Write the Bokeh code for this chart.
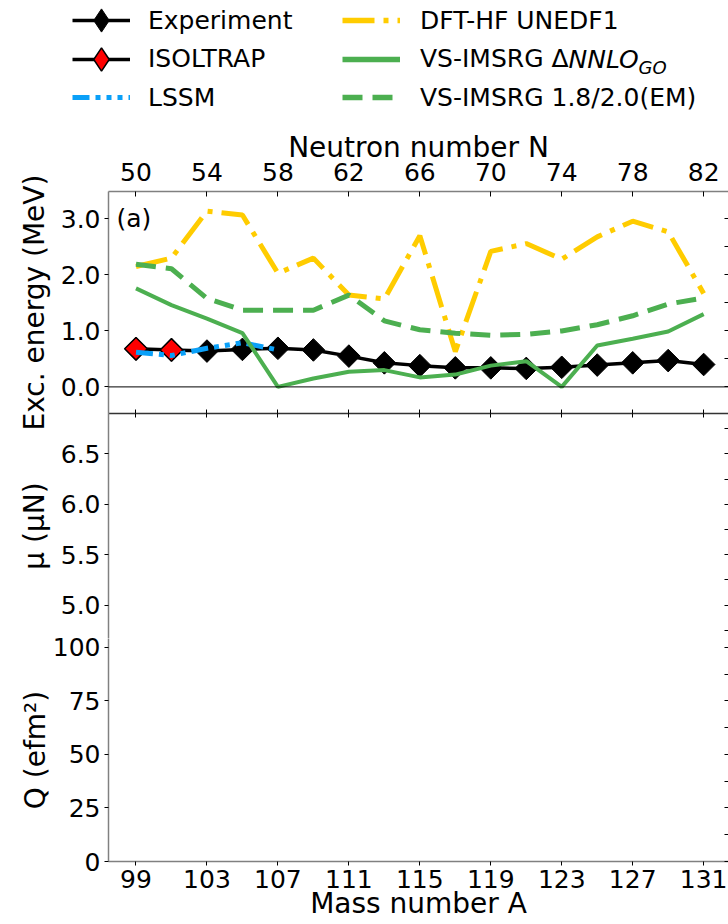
from bokeh.plotting import figure
from bokeh.models import (Range1d, LinearAxis, FixedTicker, PrintfTickFormatter,
                          Span, Label, Legend, LegendItem)
from bokeh.layouts import column
from bokeh.embed import file_html
from bokeh.resources import INLINE
import numpy as np

# ---------------- data ----------------
Z = 49  # proton number (N = A - Z)
mass_A = [99, 101, 103, 105, 107, 109, 111, 113, 115, 117, 119, 121, 123, 125, 127, 129, 131]
exp_E = [0.68, 0.66, 0.64, 0.67, 0.69, 0.66, 0.55, 0.43, 0.38, 0.34, 0.34, 0.33, 0.35, 0.39, 0.43, 0.47, 0.40]
isoltrap_A = [99, 101]
isoltrap_E = [0.68, 0.66]
lssm_A = [99, 101, 103, 105, 107]
lssm_E = [0.62, 0.56, 0.69, 0.79, 0.66]
dft_E = [2.15, 2.30, 3.14, 3.07, 2.03, 2.30, 1.64, 1.57, 2.70, 0.63, 2.42, 2.56, 2.28, 2.68, 2.96, 2.77, 1.67]
go_E = [1.76, 1.46, 1.22, 0.96, 0.00, 0.15, 0.27, 0.30, 0.17, 0.22, 0.38, 0.46, 0.00, 0.74, 0.86, 0.99, 1.30]
em_E = [2.19, 2.11, 1.58, 1.37, 1.37, 1.37, 1.64, 1.18, 1.02, 0.96, 0.92, 0.94, 1.00, 1.11, 1.27, 1.48, 1.59]

mass_ticks = [99, 103, 107, 111, 115, 119, 123, 127, 131]
neutron_ticks = [50, 54, 58, 62, 66, 70, 74, 78, 82]
exc_ticks = [0.0, 1.0, 2.0, 3.0]
exc_right_ticks = [0.0, 0.5, 1.0, 1.5, 2.0, 2.5, 3.0]
mu_ticks = [5.0, 5.5, 6.0, 6.5]
mu_right_ticks = [4.75, 5.0, 5.25, 5.5, 5.75, 6.0, 6.25, 6.5, 6.75]
q_ticks = [0, 25, 50, 75, 100]
q_right_ticks = [0, 12.5, 25, 37.5, 50, 62.5, 75, 87.5, 100]

# ---------------- style ----------------
FONT = "DejaVu Sans"
TICK = "25px"
LAB = "28px"
GOLD = "#FFCC00"
GREEN = "#4CAF50"
BLUE = "#0AA0F8"
SPINE = "#808080"
LEFT = 108  # frame left edge in the page

x_lo, x_hi = 97.45, 132.4
x_range = Range1d(x_lo, x_hi)


def base_fig(frame_h, y_range, **kw):
    opts = dict(frame_width=620, frame_height=frame_h, x_range=x_range, y_range=y_range,
                output_backend="svg", toolbar_location=None,
                x_axis_location=None, y_axis_location=None,
                min_border_left=LEFT, min_border_right=0, min_border_top=0, min_border_bottom=0,
                outline_line_color=None, background_fill_color=None, border_fill_color=None)
    opts.update(kw)
    p = figure(**opts)
    p.grid.grid_line_color = None
    return p


def style(ax, label_std=4, tick_in=0, tick_out=4):
    ax.major_label_text_font = FONT
    ax.major_label_text_font_size = TICK
    ax.major_label_text_color = "black"
    ax.axis_label_text_font = FONT
    ax.axis_label_text_font_size = LAB
    ax.axis_label_text_font_style = "normal"
    ax.axis_label_text_color = "black"
    ax.major_tick_in = tick_in
    ax.major_tick_out = tick_out
    ax.major_tick_line_color = "black"
    ax.major_tick_line_width = 1
    ax.minor_tick_line_color = None
    ax.major_label_standoff = label_std
    ax.axis_line_color = SPINE
    ax.axis_line_width = 1.5


def tick_only_axis(p, loc, ticks, tick_in, line_color=None, **kw):
    ax = LinearAxis(ticker=FixedTicker(ticks=[], minor_ticks=ticks), **kw)
    ax.minor_tick_in = tick_in
    ax.minor_tick_out = 0
    ax.minor_tick_line_color = "black"
    ax.minor_tick_line_width = 1
    ax.major_tick_line_color = None
    ax.major_label_standoff = 0
    ax.axis_line_color = line_color
    ax.axis_line_width = 1.5
    p.add_layout(ax, loc)


# ---------------- legend figure (frame spans the full width) ----------------
H_L = 127
leg = base_fig(H_L, Range1d(0, 1), x_range=Range1d(0, 1), frame_width=728, min_border_left=0)

# legend keys: same series, lying outside the legend figure's view
r_el = leg.line(mass_A, exp_E, line_color="black", line_width=3.5)
r_em = leg.scatter(mass_A, exp_E, marker="diamond", fill_color="black", line_color="black")
r_il = leg.line(isoltrap_A, isoltrap_E, line_color="black", line_width=3.5)
r_im = leg.scatter(isoltrap_A, isoltrap_E, marker="diamond", fill_color="red",
                   line_color="black", line_width=1.5)
r_ll = leg.line(lssm_A, lssm_E, line_color=BLUE, line_width=5, line_dash="17 6 5 6 5 6 5 6")
r_dl = leg.line(mass_A, dft_E, line_color=GOLD, line_width=5.5, line_dash="32 9 5 9")
r_gl = leg.line(mass_A, go_E, line_color=GREEN, line_width=5.5)
r_ml = leg.line(mass_A, em_E, line_color=GREEN, line_width=5.5, line_dash="20 10")

ROWS = [20, 58.5, 97]


def one_legend(label, renderers, x, row, standoff):
    lg = Legend(items=[LegendItem(label=label, renderers=renderers)],
                location=(x, H_L - (ROWS[row] + 30)), orientation="vertical",
                glyph_width=58, glyph_height=60, spacing=0, padding=0, margin=0,
                label_standoff=standoff, label_text_font=FONT, label_text_font_size="25px",
                label_text_color="black", background_fill_alpha=0, border_line_color=None)
    leg.add_layout(lg, "center")


one_legend("Experiment", [r_el, r_em], 72, 0, 18)
one_legend("ISOLTRAP", [r_il, r_im], 72, 1, 18)
one_legend("LSSM", [r_ll], 72, 2, 18)
one_legend("DFT-HF UNEDF1", [r_dl], 342, 0, 20)
one_legend("VS-IMSRG Δ", [r_gl], 342, 1, 20)
one_legend("VS-IMSRG 1.8/2.0(EM)", [r_ml], 342, 2, 20)

row2_y = H_L - ROWS[1]
leg.add_layout(Label(x=568, y=row2_y, x_units="screen", y_units="screen",
                     text="NNLO", text_font=FONT, text_font_size="25px",
                     text_font_style="italic", text_baseline="middle", text_color="black"))
leg.add_layout(Label(x=638, y=row2_y - 8, x_units="screen", y_units="screen",
                     text="GO", text_font=FONT, text_font_size="18px",
                     text_font_style="italic", text_baseline="middle", text_color="black"))

# ---------------- top panel ----------------
top = base_fig(222, Range1d(-0.475, 3.49), extra_x_ranges={"N": Range1d(x_lo - Z, x_hi - Z)},
               min_border_bottom=22, margin=(0, 0, -22, 0))

ax = LinearAxis(ticker=FixedTicker(ticks=exc_ticks), formatter=PrintfTickFormatter(format="%.1f"),
                axis_label="Exc. energy (MeV)")
style(ax)
ax.axis_label_standoff = 7
top.add_layout(ax, "left")

ax = LinearAxis(x_range_name="N", ticker=FixedTicker(ticks=neutron_ticks), axis_label="Neutron number N")
style(ax, label_std=11, tick_in=5, tick_out=0)
ax.axis_label_standoff = -4
top.add_layout(ax, "above")
tick_only_axis(top, "below", mass_ticks, 4, line_color="#333333")
tick_only_axis(top, "right", exc_right_ticks, 4)

top.add_layout(Span(location=0, dimension="width", line_color="black", line_width=1))

top.line(mass_A, exp_E, line_color="black", line_width=3.5)
top.scatter(mass_A, exp_E, marker="square", angle=np.pi / 4, size=16,
            fill_color="black", line_color="black")
top.scatter(isoltrap_A, isoltrap_E, marker="square", angle=np.pi / 4, size=16,
            fill_color="red", line_color="black", line_width=1.5)
top.line(lssm_A, lssm_E, line_color=BLUE, line_width=5, line_dash="17 6 5 6 5 6 5 6")
top.line(mass_A, dft_E, line_color=GOLD, line_width=5, line_dash="32 9 5 9")
top.line(mass_A, em_E, line_color=GREEN, line_width=5, line_dash="20 10")
top.line(mass_A, go_E, line_color=GREEN, line_width=4)

top.add_layout(Label(x=8, y=222 - 27, x_units="screen", y_units="screen", text="(a)",
                     text_font=FONT, text_font_size="25px", text_baseline="middle",
                     text_color="black"))

# ---------------- middle panel ----------------
mid = base_fig(225, Range1d(4.67, 6.9))
ax = LinearAxis(ticker=FixedTicker(ticks=mu_ticks), formatter=PrintfTickFormatter(format="%.1f"),
                axis_label="μ (μN)")
style(ax)
ax.axis_label_standoff = 7
mid.add_layout(ax, "left")
tick_only_axis(mid, "above", mass_ticks, 4)
tick_only_axis(mid, "right", mu_right_ticks, 4)

# ---------------- bottom panel (canvas reaches up so "100" is not clipped) ----------------
bot = base_fig(223, Range1d(0, 104.2), min_border_top=14, margin=(-14, 0, 0, 0))
ax = LinearAxis(ticker=FixedTicker(ticks=q_ticks), axis_label="Q (efm²)")
style(ax)
ax.axis_label_standoff = -2
bot.add_layout(ax, "left")
ax = LinearAxis(ticker=FixedTicker(ticks=mass_ticks), axis_label="Mass number A")
style(ax, label_std=4, tick_in=0, tick_out=4)
ax.axis_label_standoff = -4
bot.add_layout(ax, "below")
tick_only_axis(bot, "right", q_right_ticks, 4)

layout = column(leg, column(top, mid, bot, spacing=0), spacing=0)
open("out.html", "w").write(file_html(layout, INLINE))
